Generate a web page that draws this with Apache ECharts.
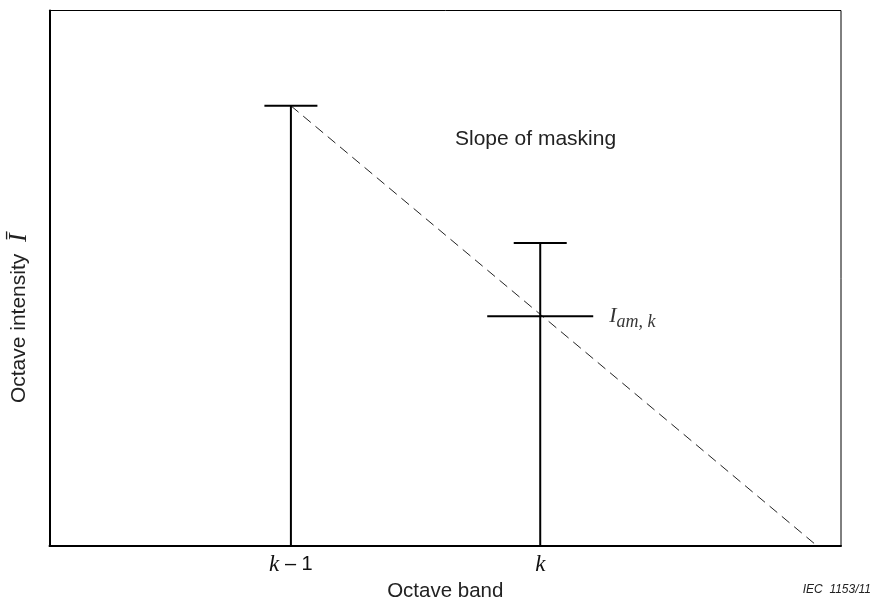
<!DOCTYPE html>
<html><head><meta charset="utf-8">
<script src="https://cdn.jsdelivr.net/npm/echarts@6/dist/echarts.min.js"></script>
<style>html,body{margin:0;padding:0;background:#fff}#c{width:874px;height:601px}</style>
</head><body><div id="c"></div>
<script>
// Data (arbitrary units on both axes)
const bandPositions = [30.5, 62];          // octave band k-1, k
const bandLabels = ['k − 1', 'k'];
const bandIntensity = [82.2, 56.6];        // octave intensity of each band
const maskedBandPosition = [62];
const maskedIntensity = [42.9];            // I_am,k
const slopeX = [30.5, 97];
const slopeY = [82.2, 0];

const chart = echarts.init(document.getElementById('c'));
const serif = '"Liberation Serif", "Times New Roman", serif';
const sans = '"Liberation Sans", Arial, sans-serif';

function capItem(half) {
  return function (params, api) {
    const x = api.value(0), y = api.value(1);
    const top = api.coord([x, y]);
    const base = api.coord([x, 0]);
    return {
      type: 'group',
      children: [
        { type: 'line', shape: { x1: top[0], y1: base[1], x2: top[0], y2: top[1] }, style: { stroke: '#000', lineWidth: 2 } },
        { type: 'line', shape: { x1: top[0] - half, y1: top[1], x2: top[0] + half, y2: top[1] }, style: { stroke: '#000', lineWidth: 2 } }
      ]
    };
  };
}
function barOnly(half) {
  return function (params, api) {
    const p = api.coord([api.value(0), api.value(1)]);
    return { type: 'line', shape: { x1: p[0] - half, y1: p[1], x2: p[0] + half, y2: p[1] }, style: { stroke: '#000', lineWidth: 2 } };
  };
}

chart.setOption({
  animation: false,
  grid: { left: 49.5, top: 10.5, right: 33, bottom: 55, show: true, borderColor: '#000', borderWidth: 1,
          containLabel: false, outerBoundsMode: 'none' },
  xAxis: {
    type: 'value', min: 0, max: 100,
    axisLine: { lineStyle: { color: '#000', width: 2 } },
    axisTick: { show: false },
    splitLine: { show: false },
    axisLabel: {
      customValues: bandPositions,
      margin: 7,
      formatter: function (v) {
        const i = bandPositions.indexOf(v);
        const s = bandLabels[i];
        if (s.indexOf('−') >= 0) return '{k|k}{n| – 1}';
        return '{k|' + s + '}';
      },
      rich: {
        k: { fontFamily: serif, fontStyle: 'italic', fontSize: 23, color: '#111' },
        n: { fontFamily: sans, fontSize: 20, color: '#111' }
      }
    },
    name: 'Octave band', nameLocation: 'middle', nameGap: 34,
    nameTextStyle: { fontFamily: sans, fontSize: 20.5, color: '#222' }
  },
  yAxis: {
    type: 'value', min: 0, max: 100,
    axisLine: { show: true, lineStyle: { color: '#000', width: 2 } },
    axisTick: { show: false }, axisLabel: { show: false }, splitLine: { show: false },
    name: 'Octave intensity  {i|Ī}', nameLocation: 'middle', nameGap: 17,
    nameTextStyle: { fontFamily: sans, fontSize: 21, color: '#222', padding: [0, 80, 0, 0],
      rich: { i: { fontFamily: serif, fontStyle: 'italic', fontSize: 26, color: '#222' } } }
  },
  series: [
    {
      type: 'line', data: slopeX.map((x, i) => [x, slopeY[i]]), symbol: 'none',
      lineStyle: { color: '#222', width: 1, type: [10, 6] }, z: 1
    },
    {
      type: 'custom', renderItem: capItem(26.5),
      data: bandPositions.map((x, i) => [x, bandIntensity[i]]), z: 2
    },
    {
      type: 'custom', renderItem: barOnly(53),
      data: maskedBandPosition.map((x, i) => [x, maskedIntensity[i]]), z: 2
    },
    {
      type: 'scatter', symbolSize: 0, z: 3,
      data: maskedBandPosition.map((x, i) => [x, maskedIntensity[i]]),
      label: {
        show: true, position: 'right', distance: 69,
        formatter: '{a|I}{b|am, k}',
        rich: {
          a: { fontFamily: serif, fontStyle: 'italic', fontSize: 22, color: '#000' },
          b: { fontFamily: serif, fontStyle: 'italic', fontSize: 18, color: '#000', padding: [12, 0, 0, 0] }
        }
      }
    }
  ],
  graphic: [
    { type: 'text', left: 455, top: 129, style: { text: 'Slope of masking', font: '21px "Liberation Sans", Arial, sans-serif', fill: '#222' } },
    { type: 'text', right: 3, top: 584, style: { text: 'IEC  1153/11', font: 'italic 12px "Liberation Sans", Arial, sans-serif', fill: '#222' } }
  ]
});
</script></body></html>
